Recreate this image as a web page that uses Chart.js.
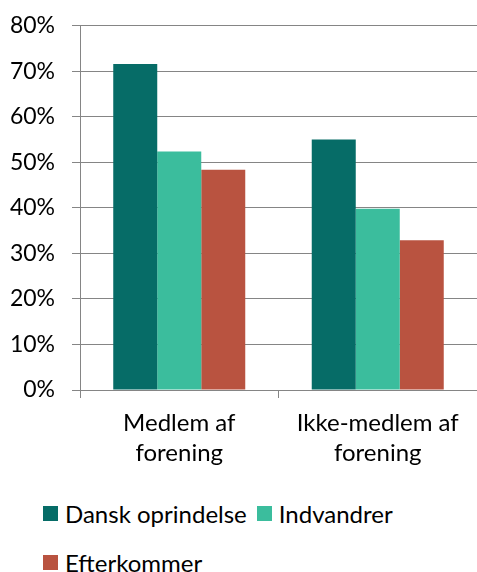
<!DOCTYPE html>
<html>
<head>
<meta charset="utf-8">
<script src="https://cdn.jsdelivr.net/npm/chart.js@4.4.1/dist/chart.umd.min.js"></script>
<style>
  html, body { margin: 0; padding: 0; background: #fff; }
  #wrap { position: relative; width: 477px; height: 572px; overflow: hidden; }
  #c { position: absolute; left: 0; top: -5px; }
  #legend { position: absolute; left: 43px; top: 489px; width: 420px; display: flex; flex-wrap: wrap;
            font-family: Lato, sans-serif; font-size: 24px; color: #000; }
  .item { display: flex; align-items: center; height: 49px; margin-right: 10px; }
  .box { width: 15px; height: 15px; margin-right: 7px; }
</style>
</head>
<body>
<div id="wrap">
  <canvas id="c" width="477" height="480"></canvas>
  <div id="legend"></div>
</div>
<script>
const categories = [["Medlem af", "forening"], ["Ikke-medlem af", "forening"]];
const seriesNames = ["Dansk oprindelse", "Indvandrer", "Efterkommer"];
const dansk = [71.6, 55.0];
const indvandrer = [52.4, 39.8];
const efterkommer = [48.4, 32.9];
const colors = ["#066c67", "#3bbd9d", "#b95340"];
const yTicks = [0, 10, 20, 30, 40, 50, 60, 70, 80];

const values = [dansk, indvandrer, efterkommer];
const FONT = "Lato, sans-serif";

const chart = new Chart(document.getElementById('c'), {
  type: 'bar',
  data: {
    labels: categories,
    datasets: seriesNames.map((n, i) => ({
      label: n, data: values[i], backgroundColor: colors[i],
      borderWidth: 0, barPercentage: 1.0, categoryPercentage: 0.665
    }))
  },
  options: {
    responsive: false,
    animation: false,
    layout: { padding: { top: 9, right: 0, bottom: 0, left: 0 } },
    plugins: { legend: { display: false }, tooltip: { enabled: false } },
    scales: {
      x: {
        offset: true,
        grid: { display: true, drawOnChartArea: false, drawTicks: true, tickLength: 8, color: '#858585', offset: true },
        border: { display: true, color: '#858585', width: 1 },
        ticks: { font: { family: FONT, size: 24, lineHeight: 1.25 }, color: '#000', padding: 10, maxRotation: 0, autoSkip: false },
        afterFit: (s) => { s.height = 85; }
      },
      y: {
        min: 0, max: 80,
        afterBuildTicks: (s) => { s.ticks = yTicks.map(v => ({ value: v })); },
        grid: { color: '#858585', lineWidth: 1, tickLength: 8, drawTicks: true },
        border: { display: true, color: '#858585', width: 1 },
        ticks: { font: { family: FONT, size: 23 }, color: '#000', padding: 17, callback: v => v + '%' },
        afterFit: (s) => { s.width = 80; }
      }
    }
  }
});

const leg = document.getElementById('legend');
seriesNames.forEach((n, i) => {
  const it = document.createElement('div'); it.className = 'item';
  const b = document.createElement('div'); b.className = 'box'; b.style.background = colors[i];
  const t = document.createElement('span'); t.textContent = n;
  it.appendChild(b); it.appendChild(t); leg.appendChild(it);
});
</script>
</body>
</html>
